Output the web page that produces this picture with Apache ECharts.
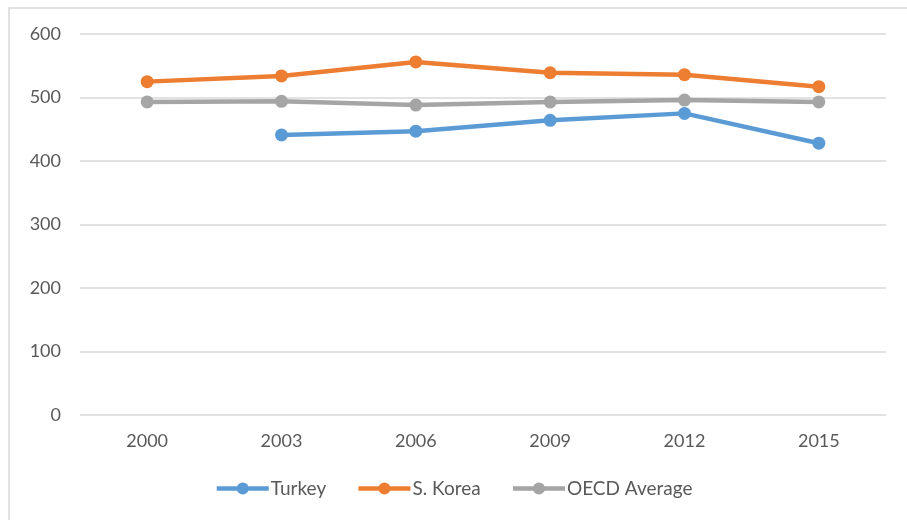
<!DOCTYPE html>
<html>
<head>
<meta charset="utf-8">
<script src="https://cdn.jsdelivr.net/npm/echarts@6/dist/echarts.min.js"></script>
<style>
  html, body { margin: 0; padding: 0; background: #fff; }
  #main { width: 907px; height: 520px; }
</style>
</head>
<body>
<div id="main"></div>
<script>
var years = ['2000', '2003', '2006', '2009', '2012', '2015'];
var turkey = [null, 441, 447, 464, 475, 428];
var korea = [525, 534, 556, 539, 536, 517];
var oecd = [493, 494, 488, 493, 496, 493];

var font = 'Lato, "Open Sans", sans-serif';

function line(name, data, color) {
  return {
    name: name,
    type: 'line',
    data: data,
    symbol: 'circle',
    symbolSize: 13,
    lineStyle: { width: 4.5, color: color },
    itemStyle: { color: color },
    connectNulls: false
  };
}

var myChart = echarts.init(document.getElementById('main'));
var option = {
  animation: false,
  backgroundColor: '#fff',
  graphic: [{
    type: 'rect',
    shape: { x: 9, y: 8, width: 920, height: 540 },
    style: { fill: 'none', stroke: '#d9d9d9', lineWidth: 1.5 },
    silent: true
  }],
  grid: { left: 80, right: 21, top: 34, bottom: 105 },
  legend: {
    bottom: 17,
    left: 'center',
    itemWidth: 52,
    itemHeight: 15,
    itemGap: 30,
    lineStyle: { width: 4.5 },
    textStyle: { fontFamily: font, fontSize: 19, color: '#595959', padding: [0, 0, 0, -3] },
    data: ['Turkey', 'S. Korea', 'OECD Average']
  },
  xAxis: {
    type: 'category',
    data: years,
    boundaryGap: true,
    axisLine: { show: false },
    axisTick: { show: false },
    axisLabel: { fontFamily: font, fontSize: 18, color: '#595959', margin: 17 }
  },
  yAxis: {
    type: 'value',
    min: 0,
    max: 600,
    interval: 100,
    axisLine: { show: false },
    axisTick: { show: false },
    axisLabel: { fontFamily: font, fontSize: 18, color: '#595959', margin: 19 },
    splitLine: { lineStyle: { color: '#d9d9d9', width: 1.5 } }
  },
  series: [
    line('Turkey', turkey, '#5b9bd5'),
    line('S. Korea', korea, '#ed7d31'),
    line('OECD Average', oecd, '#a5a5a5')
  ]
};
myChart.setOption(option);
</script>
</body>
</html>
